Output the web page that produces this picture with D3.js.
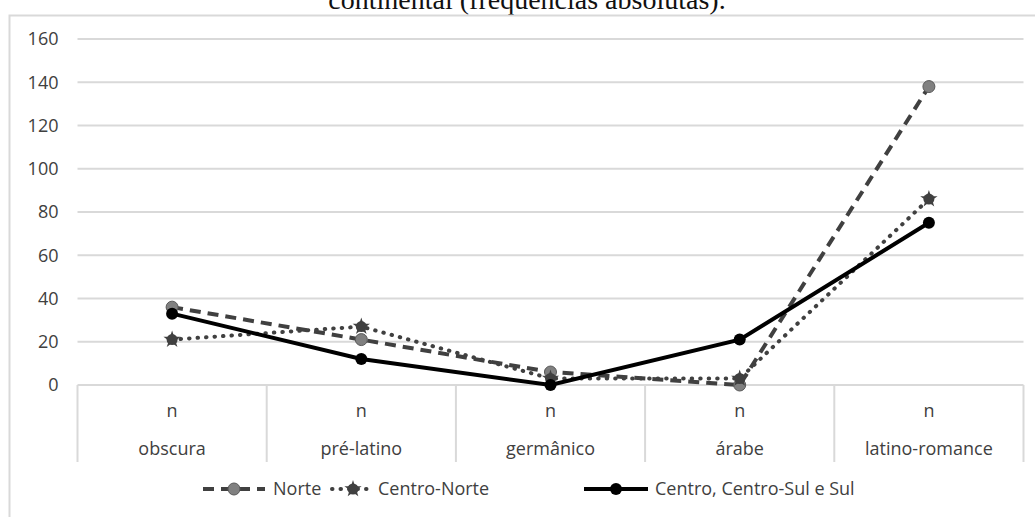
<!DOCTYPE html>
<html>
<head>
<meta charset="utf-8">
<script src="https://cdn.jsdelivr.net/npm/d3@7"></script>
<style>
	body { margin: 0; background: #fff; }
	#chart { width: 1035px; height: 517px; }
</style>
</head>
<body>
<div id="chart"></div>
<script>
// Data
const categories = ["obscura", "pré-latino", "germânico", "árabe", "latino-romance"]
const subLabels = ["n", "n", "n", "n", "n"]
const norte = [36, 21, 6, 0, 138]
const centroNorte = [21, 27, 3, 3, 86]
const centroSul = [33, 12, 0, 21, 75]
const yTicks = [0, 20, 40, 60, 80, 100, 120, 140, 160]
const titleText = "continental (frequências absolutas)."

const seriesList = [
	{ name: "Norte", values: norte, kind: "dash" },
	{ name: "Centro-Norte", values: centroNorte, kind: "dot" },
	{ name: "Centro, Centro-Sul e Sul", values: centroSul, kind: "solid" },
]

const W = 1035
const H = 517
const font = "'Open Sans', sans-serif"
const textColor = "#404040"
const gridColor = "#d9d9d9"

const svg = d3
	.select("#chart")
	.append("svg")
	.attr("width", W)
	.attr("height", H)

// Cut-off title at top
svg.append("text")
	.attr("x", 527)
	.attr("y", 9)
	.attr("text-anchor", "middle")
	.style("font-family", "'Liberation Serif', serif")
	.style("font-size", "28px")
	.style("fill", "#111")
	.text(titleText)

// Chart area border (top and left visible)
svg.append("path")
	.attr("d", `M9.5,${H} V15.5 H${W}`)
	.attr("fill", "none")
	.attr("stroke", gridColor)
	.attr("stroke-width", 2)

const plot = { left: 77.5, right: 1023.5, top: 39, bottom: 385 }

const x = d3
	.scaleBand()
	.domain(categories)
	.range([plot.left, plot.right])

const y = d3.scaleLinear().domain([0, 160]).range([plot.bottom, plot.top])

// Gridlines
svg.append("g")
	.attr("class", "grid")
	.selectAll("line")
	.data(yTicks)
	.join("line")
	.attr("x1", plot.left)
	.attr("x2", plot.right)
	.attr("y1", (d) => y(d))
	.attr("y2", (d) => y(d))
	.attr("stroke", gridColor)
	.attr("stroke-width", 2)

// Y axis labels
const yAxis = svg
	.append("g")
	.attr("class", "y-axis")
	.attr("transform", `translate(${plot.left - 19},0)`)
	.call(d3.axisLeft(y).tickValues(yTicks).tickSize(0).tickPadding(0))
yAxis.select(".domain").remove()
yAxis.selectAll("text")
	.style("font-family", font)
	.style("font-size", "18px")
	.style("fill", textColor)

// Category axis: dividers + two label rows
const xAxis = svg.append("g").attr("class", "x-axis")
const bounds = categories.map((c) => x(c)).concat([plot.right])
xAxis.selectAll("line")
	.data(bounds)
	.join("line")
	.attr("x1", (d) => d)
	.attr("x2", (d) => d)
	.attr("y1", plot.bottom)
	.attr("y2", 462)
	.attr("stroke", gridColor)
	.attr("stroke-width", 2)

xAxis.selectAll("text.sub")
	.data(categories)
	.join("text")
	.attr("class", "sub")
	.attr("x", (d) => x(d) + x.bandwidth() / 2)
	.attr("y", 417)
	.attr("text-anchor", "middle")
	.style("font-family", font)
	.style("font-size", "18px")
	.style("fill", textColor)
	.text((d, i) => subLabels[i])

xAxis.selectAll("text.cat")
	.data(categories)
	.join("text")
	.attr("class", "cat")
	.attr("x", (d) => x(d) + x.bandwidth() / 2)
	.attr("y", 455)
	.attr("text-anchor", "middle")
	.style("font-family", font)
	.style("font-size", "18px")
	.style("fill", textColor)
	.text((d) => d)

// Style helpers
function styleLine(sel, kind) {
	if (kind === "dash") {
		sel.attr("stroke", "#404040")
			.attr("stroke-width", 4)
			.attr("stroke-dasharray", "11,7")
	} else if (kind === "dot") {
		sel.attr("stroke", "#404040")
			.attr("stroke-width", 4)
			.attr("stroke-linecap", "round")
			.attr("stroke-dasharray", "0.5,8")
	} else {
		sel.attr("stroke", "#000").attr("stroke-width", 4)
	}
	return sel
}

const star = d3.symbol().type(d3.symbolStar).size(55)

function drawMarker(g, cx, cy, kind) {
	if (kind === "dash") {
		g.append("circle")
			.attr("cx", cx)
			.attr("cy", cy)
			.attr("r", 6)
			.attr("fill", "#808080")
			.attr("stroke", "#595959")
			.attr("stroke-width", 1)
	} else if (kind === "dot") {
		g.append("circle")
			.attr("cx", cx)
			.attr("cy", cy)
			.attr("r", 5.5)
			.attr("fill", "#404040")
		g.append("path")
			.attr("d", star())
			.attr("transform", `translate(${cx},${cy}) scale(1.3)`)
			.attr("fill", "#404040")
	} else {
		g.append("circle")
			.attr("cx", cx)
			.attr("cy", cy)
			.attr("r", 6)
			.attr("fill", "#000")
	}
}

const line = d3
	.line()
	.x((d, i) => x(categories[i]) + x.bandwidth() / 2)
	.y((d) => y(d))

seriesList.forEach((s) => {
	const g = svg.append("g").attr("class", "series")
	styleLine(
		g.append("path").datum(s.values).attr("fill", "none").attr("d", line),
		s.kind
	)
	s.values.forEach((v, i) => {
		drawMarker(g, x(categories[i]) + x.bandwidth() / 2, y(v), s.kind)
	})
})

// Legend
const legendItems = [
	{ x0: 203, x1: 265, tx: 273 },
	{ x0: 332, x1: 374, tx: 378 },
	{ x0: 584, x1: 648, tx: 655 },
]
const legend = svg.append("g").attr("class", "legend")
seriesList.forEach((s, i) => {
	const it = legendItems[i]
	const ly = 489
	const row = legend.append("g")
	styleLine(
		row.append("line")
			.attr("x1", it.x0)
			.attr("x2", it.x1)
			.attr("y1", ly)
			.attr("y2", ly),
		s.kind
	)
	drawMarker(row, (it.x0 + it.x1) / 2, ly, s.kind)
	row.append("text")
		.attr("x", it.tx)
		.attr("y", ly + 6)
		.style("font-family", font)
		.style("font-size", "18px")
		.style("fill", textColor)
		.text(s.name)
})
</script>
</body>
</html>
